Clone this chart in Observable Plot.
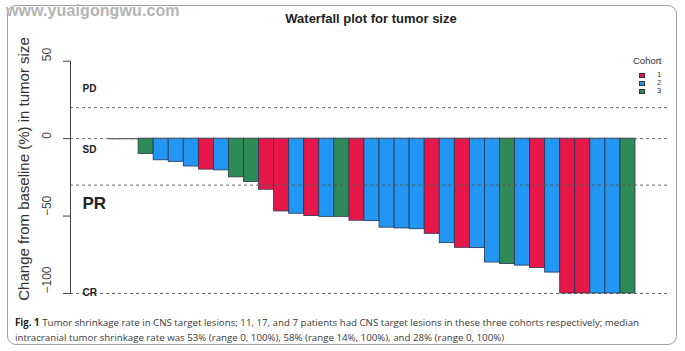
<!DOCTYPE html>
<html><head><meta charset="utf-8">
<script src="https://cdn.jsdelivr.net/npm/d3@7"></script>
<script src="https://cdn.jsdelivr.net/npm/@observablehq/plot@0.6"></script>
<style>
body{margin:0;background:#fff;}
#wrap{position:relative;width:685px;height:351px;overflow:hidden;font-family:"Liberation Sans",Arial,sans-serif;}
#wrap svg{position:absolute;left:0;top:0;}
.abs{position:absolute;white-space:nowrap;}
#border{position:absolute;left:7px;top:5px;width:670px;height:340px;border:1.5px solid #a0a0a0;border-radius:9px;box-sizing:border-box;}
#wm{left:6px;top:2px;font-size:16px;font-weight:bold;color:#b4b4b4;letter-spacing:0.1px;}
#title{left:371px;top:11px;transform:translateX(-50%);font-size:13px;font-weight:bold;color:#222;}
#ylab{left:23px;top:169px;transform:translate(-50%,-50%) rotate(-90deg);font-size:15px;color:#333;}
#legend{left:628px;top:55px;font-size:9.5px;color:#333;}
#legend .t{position:absolute;left:5px;top:0;line-height:12px;}
#legend .row{position:absolute;left:11px;height:8px;}
#legend .sw{position:absolute;left:0;top:1.5px;width:6px;height:5px;box-sizing:border-box;border:0.6px solid #333;}
#legend .lb{position:absolute;left:18px;top:0;font-size:7.5px;line-height:8px;height:8px;}
#cap{left:15px;top:315px;font-family:"Open Sans",sans-serif;color:#3a3a3a;line-height:15px;}
#cap b{color:#222;}
</style></head><body><div id="wrap"><div id="border"></div></div>
<script>
// ---- data ----
const cohorts = [1,3,3,2,2,2,1,2,3,3,1,1,2,1,2,3,1,2,2,2,2,1,2,1,2,2,3,2,1,2,1,1,2,2,3];
const changes = [0,0,-10,-14,-15,-18,-20,-20.5,-25,-28,-33,-47,-48.5,-50,-50.5,-50.5,-53,-53.3,-57.5,-58,-58.5,-61.5,-67.5,-70.5,-70.7,-80,-81,-82,-83.5,-86.5,-100,-100,-100,-100,-100];
const cohortNames = [1,2,3];
const cohortColors = ["#E8174A","#2196F3","#2E8B57"];
const thresholds = [20,0,-30,-100];
const yTicks = [50,0,-50,-100];
const zoneLabels = ["PD","SD","PR","CR"];
const zoneLabelY = [32,-7,-42,-99.3];
const titleText = "Waterfall plot for tumor size";
const yLabelText = "Change from baseline (%) in tumor size";
const legendTitle = "Cohort";
const watermark = "www.yuaigongwu.com";
const captionBold = "Fig. 1";
const captionLine1 = " Tumor shrinkage rate in CNS target lesions; 11, 17, and 7 patients had CNS target lesions in these three cohorts respectively; median";
const captionLine2 = "intracranial tumor shrinkage rate was 53% (range 0, 100%), 58% (range 14%, 100%), and 28% (range 0, 100%)";

const data = changes.map((v,i)=>({i, v, cohort: cohorts[i]}));
const fmt = d => d < 0 ? "\u2212" + (-d) : String(d);
const zones = zoneLabels.map((t,k)=>({t, y: zoneLabelY[k]}));

const chart = Plot.plot({
  width:685, height:351,
  marginLeft:70, marginRight:17, marginTop:60.7, marginBottom:58,
  style:{fontFamily:"Liberation Sans, Arial, sans-serif", background:"transparent"},
  x:{domain:[0,changes.length], range:[108,635], axis:null},
  y:{domain:[-100,50]},
  color:{domain:cohortNames, range:cohortColors},
  marks:[
    Plot.rectY(data.filter(d=>d.v!==0),{x1:"i", x2:d=>d.i+1, y1:0, y2:"v", fill:"cohort", stroke:"#2a3352", strokeWidth:0.8}),
    Plot.ruleY(thresholds,{stroke:"#555", strokeDasharray:"3,3", strokeWidth:0.9}),
    Plot.ruleY(data.filter(d=>d.v===0),{x1:"i", x2:d=>d.i+1, y:"v", stroke:"#666", strokeWidth:1.3}),
    Plot.frame({anchor:"left", stroke:"#444", strokeWidth:1}),
    Plot.axisY({ticks:yTicks, tickSize:7, tickFormat:()=> "", label:null, stroke:"#444"}),
    Plot.text(yTicks,{y:d=>d, text:fmt, frameAnchor:"left", dx:-23, rotate:-90, fontSize:12, fill:"#444"}),
    Plot.text(zones.filter(d=>d.t!=="PR"),{y:"y", text:"t", frameAnchor:"left", dx:12, textAnchor:"start", fontWeight:"bold", fontSize:10, fill:"#222"}),
    Plot.text(zones.filter(d=>d.t==="PR"),{y:"y", text:"t", frameAnchor:"left", dx:12, textAnchor:"start", fontWeight:"bold", fontSize:17, fill:"#222"})
  ]
});
const wrap = document.getElementById("wrap");
wrap.appendChild(chart);

function add(id, html){const d=document.createElement("div");d.className="abs";d.id=id;d.innerHTML=html;wrap.appendChild(d);return d;}
add("wm", watermark);
add("title", titleText);
add("ylab", yLabelText);
const lg = add("legend", "");
lg.innerHTML = `<div class="t">${legendTitle}</div>` + cohortNames.map((c,k)=>
  `<div class="row" style="top:${16+k*8}px"><div class="sw" style="background:${cohortColors[k]}"></div><div class="lb">${c}</div></div>`).join("");

// caption, fit first line to the reference width
const cv = document.createElement("canvas").getContext("2d");
cv.font = "10px 'Open Sans'";
const w1 = cv.measureText(captionLine1).width;
cv.font = "bold 10px 'Open Sans'";
const wb = cv.measureText(captionBold).width;
const fs = Math.min(11.5, 10 * 625 / (w1 + wb));
const cap = add("cap", `<b>${captionBold}</b>${captionLine1}<br>${captionLine2}`);
cap.style.fontSize = fs + "px";
</script></body></html>
